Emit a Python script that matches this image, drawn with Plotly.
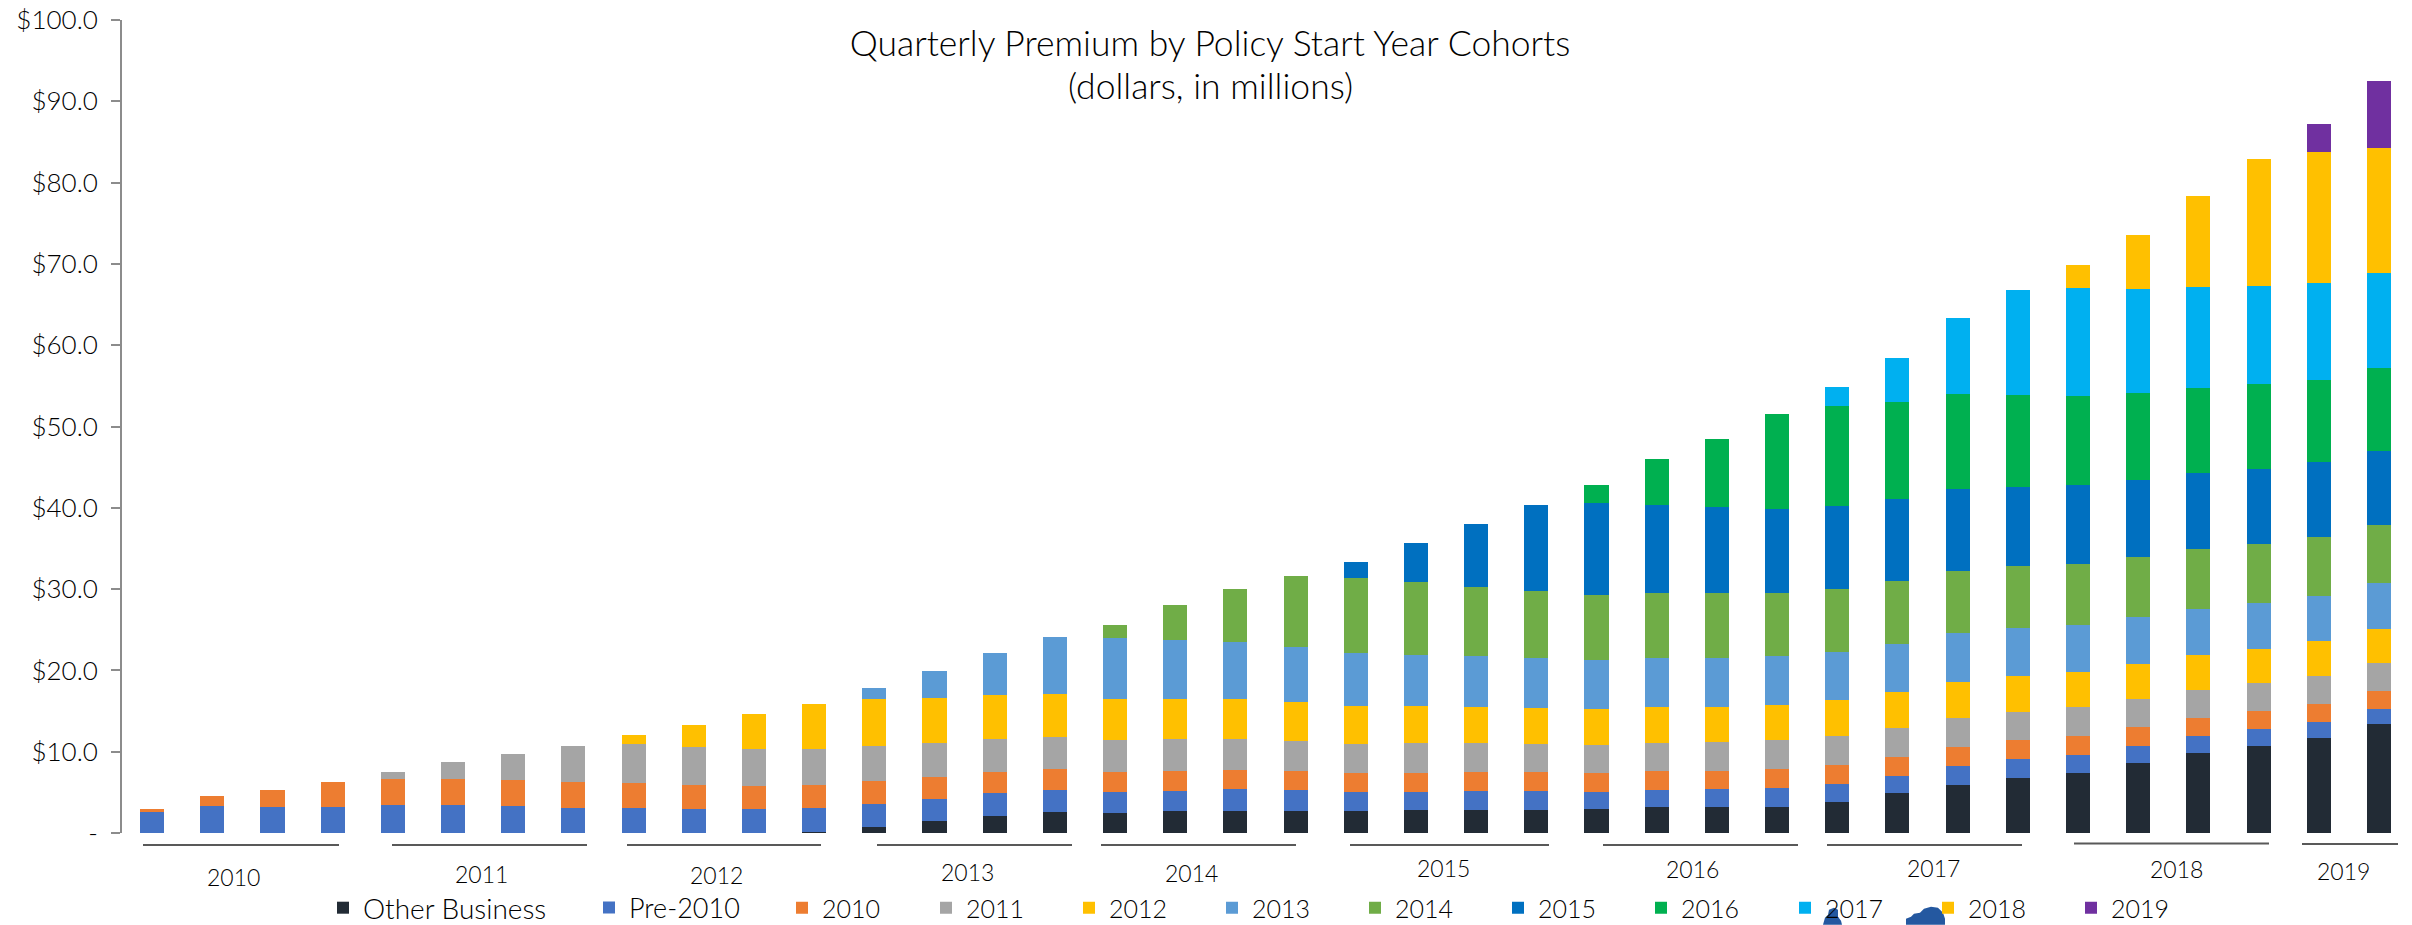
import plotly.graph_objects as go

W, H = 2412, 925
L, R, T, B = 122, 2409, 18, 833
FONT = "Lato"
INK = "#000000"

categories = [f"{y} Q{q}" for y in range(2010, 2019) for q in (1, 2, 3, 4)] + ["2019 Q1", "2019 Q2"]

other_business = [0]*11 + [0.16, 0.78, 1.48, 2.13, 2.58, 2.5, 2.75, 2.75, 2.75, 2.75, 2.82, 2.87, 2.87, 2.92, 3.15, 3.15, 3.25, 3.86, 4.96, 5.95, 6.81, 7.42, 8.65, 9.88, 10.74, 11.73, 13.45]
pre_2010 = [2.54, 3.36, 3.2, 3.2, 3.44, 3.44, 3.36, 3.12, 3.12, 2.99, 2.95, 2.96, 2.82, 2.7, 2.75, 2.75, 2.58, 2.46, 2.66, 2.54, 2.29, 2.26, 2.31, 2.31, 2.16, 2.17, 2.22, 2.26, 2.12, 2.09, 2.33, 2.29, 2.22, 2.09, 2.05, 2.05, 1.96, 1.84]
c2010 = [0.37, 1.15, 2.05, 3.07, 3.2, 3.2, 3.12, 3.15, 3.03, 2.91, 2.87, 2.78, 2.8, 2.67, 2.66, 2.54, 2.46, 2.46, 2.38, 2.38, 2.38, 2.36, 2.31, 2.31, 2.31, 2.31, 2.3, 2.31, 2.4, 2.34, 2.34, 2.34, 2.33, 2.26, 2.26, 2.22, 2.22, 2.14]
c2011 = [0]*4 + [0.9, 2.13, 3.28, 4.39, 4.8, 4.72, 4.55, 4.47, 4.26, 4.18, 3.98, 3.98, 3.94, 3.85, 3.77, 3.69, 3.57, 3.58, 3.53, 3.43, 3.49, 3.48, 3.58, 3.57, 3.53, 3.53, 3.57, 3.48, 3.49, 3.44, 3.44, 3.4, 3.45, 3.44]
c2012 = [0]*8 + [1.1, 2.66, 4.23, 5.53, 5.78, 5.57, 5.41, 5.25, 5.04, 5.0, 4.92, 4.71, 4.67, 4.61, 4.42, 4.43, 4.37, 4.43, 4.29, 4.34, 4.43, 4.38, 4.38, 4.39, 4.34, 4.35, 4.22, 4.22, 4.26, 4.22]
c2013 = [0]*12 + [1.44, 3.3, 5.25, 6.97, 7.42, 7.18, 6.97, 6.77, 6.52, 6.31, 6.31, 6.12, 5.98, 5.98, 5.98, 6.02, 5.88, 5.9, 5.99, 5.86, 5.78, 5.74, 5.66, 5.7, 5.58, 5.62]
c2014 = [0]*16 + [1.6, 4.3, 6.56, 8.73, 9.23, 8.95, 8.52, 8.33, 8.1, 8.0, 7.95, 7.77, 7.82, 7.8, 7.71, 7.63, 7.55, 7.42, 7.38, 7.22, 7.22, 7.17]
c2015 = [0]*20 + [1.96, 4.8, 7.72, 10.55, 11.21, 10.88, 10.64, 10.36, 10.16, 10.04, 10.0, 9.8, 9.64, 9.43, 9.35, 9.26, 9.2, 9.15]
c2016 = [0]*24 + [2.3, 5.55, 8.38, 11.62, 12.3, 11.93, 11.69, 11.32, 10.94, 10.78, 10.54, 10.38, 10.14, 10.12]
c2017 = [0]*28 + [2.35, 5.45, 9.34, 12.87, 13.37, 12.75, 12.38, 12.09, 11.89, 11.69]
c2018 = [0]*32 + [2.82, 6.64, 11.19, 15.58, 16.07, 15.46]
c2019 = [0]*36 + [3.49, 8.16]

series_names = ["Other Business", "Pre-2010", "2010", "2011", "2012", "2013", "2014", "2015", "2016", "2017", "2018", "2019"]
series_values = [other_business, pre_2010, c2010, c2011, c2012, c2013, c2014, c2015, c2016, c2017, c2018, c2019]
series_colors = ["#222b35", "#4472c4", "#ed7d31", "#a5a5a5", "#ffc000", "#5b9bd5", "#70ad47", "#0070c0", "#00b050", "#00b0f0", "#ffc000", "#7030a0"]
legend_text_x = [363, 629, 822, 966, 1109, 1252, 1395, 1538, 1681, 1825, 1968, 2111]
legend_font_size = [28, 27, 25, 25, 25, 25, 25, 25, 25, 25, 25, 25]

tick_values = [0, 10, 20, 30, 40, 50, 60, 70, 80, 90, 100]
tick_labels = ["-", "$10.0", "$20.0", "$30.0", "$40.0", "$50.0", "$60.0", "$70.0", "$80.0", "$90.0", "$100.0"]

year_labels = ["2010", "2011", "2012", "2013", "2014", "2015", "2016", "2017", "2018", "2019"]
year_label_x = [233, 481, 716, 967, 1191, 1443, 1692, 1933, 2176, 2343]
year_label_y = [877, 874, 875, 872, 873, 868, 869, 868, 869, 871]
year_rule_x0 = [143, 392, 627, 877, 1101, 1350, 1603, 1827, 2074, 2302]
year_rule_x1 = [339, 587, 821, 1072, 1296, 1549, 1798, 2022, 2269, 2398]
year_rule_y = [845, 845, 845, 845, 845, 845, 845, 845, 843.5, 844]


def px(x):
    return (x - L) / (R - L)


def py(y):
    return (B - y) / (B - T)


fig = go.Figure()
layout_legends = {}
for i, (name, vals, col, tx, fs) in enumerate(zip(series_names, series_values, series_colors, legend_text_x, legend_font_size)):
    key = "legend" if i == 0 else f"legend{i + 1}"
    fig.add_bar(x=categories, y=vals, name=name, marker=dict(color=col, line=dict(width=0)), legend=key)
    layout_legends[key] = dict(
        xref="container", yref="container", x=(tx - 40) / W, y=1 - 908 / H,
        xanchor="left", yanchor="middle", bgcolor="rgba(0,0,0,0)", borderwidth=0,
        font=dict(family=FONT, size=fs, color=INK, weight=300), orientation="h",
    )

shapes = []
for x0, x1, y in zip(year_rule_x0, year_rule_x1, year_rule_y):
    shapes.append(dict(type="line", xref="paper", yref="paper", x0=px(x0), x1=px(x1), y0=py(y), y1=py(y),
                       line=dict(color="#595959", width=2)))


def blob(points):
    d = "M" + "L".join(f"{px(x):.5f},{py(y):.5f}" for x, y in points) + "Z"
    return dict(type="path", xref="paper", yref="paper", path=d, fillcolor="#2458a0", line=dict(width=0), layer="below")


shapes.append(blob([(1823, 925), (1825, 918), (1828, 915), (1829, 910), (1834, 908), (1838, 910), (1838, 917), (1841, 921), (1842, 925)]))
shapes.append(blob([(1906, 925), (1906, 919), (1911, 917), (1914, 914), (1920, 913), (1924, 909), (1931, 907), (1938, 908), (1943, 913), (1945, 919), (1945, 925)]))

annotations = [
    dict(text=t, xref="paper", yref="paper", x=px(x), y=py(y), xanchor="center", yanchor="middle", showarrow=False,
         font=dict(family=FONT, size=23, color=INK, weight=300))
    for t, x, y in zip(year_labels, year_label_x, year_label_y)
]
annotations.append(dict(text="(dollars, in millions)", xref="paper", yref="paper", x=px(1210), y=py(84),
                        xanchor="center", yanchor="middle", showarrow=False,
                        font=dict(family=FONT, size=35.5, color=INK, weight=300)))

fig.update_layout(
    width=W, height=H, autosize=False,
    margin=dict(l=L, r=W - R, t=T, b=H - B, pad=0),
    barmode="stack", bargap=0.6,
    paper_bgcolor="white", plot_bgcolor="white",
    showlegend=True,
    title=dict(text="Quarterly Premium by Policy Start Year Cohorts",
               x=1210 / W, xanchor="center", xref="container", y=1 - 44 / H, yanchor="middle", yref="container",
               font=dict(family=FONT, size=35.5, color=INK, weight=300)),
    xaxis=dict(type="category", categoryorder="array", categoryarray=categories, range=[-0.5, 37.5],
               showticklabels=False, ticks="", showgrid=False, zeroline=False, showline=False),
    yaxis=dict(range=[0, 100], tickmode="array", tickvals=tick_values, ticktext=tick_labels,
               ticks="outside", ticklen=9, tickwidth=2, tickcolor="#8c8c8c", showline=True, linecolor="#8c8c8c",
               linewidth=2, showgrid=False, zeroline=False, ticklabelstandoff=8,
               tickfont=dict(family=FONT, size=26, color=INK, weight=300)),
    shapes=shapes, annotations=annotations,
    **layout_legends,
)

fig.write_html("out.html", config=dict(displayModeBar=False),
               post_script="document.documentElement.style.margin='0';document.body.style.margin='0';document.body.style.overflow='hidden';")
